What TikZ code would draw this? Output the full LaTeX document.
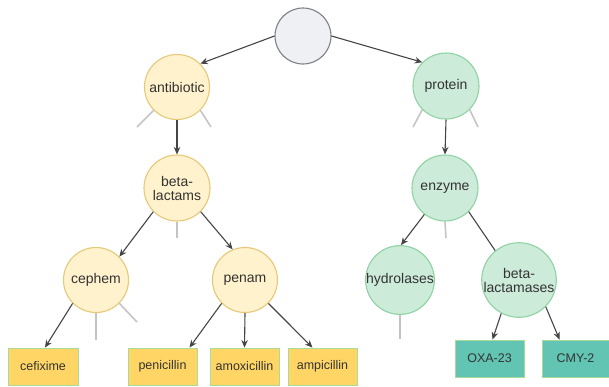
\documentclass[tikz,border=0pt]{standalone}
\usepackage{fontspec}
\setmainfont{Liberation Sans}
\usetikzlibrary{arrows.meta}
\definecolor{txt}{HTML}{333333}
\definecolor{rootfill}{HTML}{EEF0F4}
\definecolor{rootdraw}{HTML}{7F8085}
\definecolor{yfill}{HTML}{FFF2CC}
\definecolor{ydraw}{HTML}{E6C879}
\definecolor{gfill}{HTML}{CDEBD9}
\definecolor{gdraw}{HTML}{8FD3A2}
\definecolor{boxy}{HTML}{FFD666}
\definecolor{boxt}{HTML}{62C4B3}
\definecolor{boxedge}{HTML}{A8DC98}
\definecolor{arr}{HTML}{454545}
\definecolor{stubc}{HTML}{C4C4C4}
\tikzset{
  circ/.style={circle, inner sep=0pt, line width=1.1pt, text=txt, align=center,
    font=\fontsize{14}{15}\selectfont},
  rootc/.style={circ, minimum size=56pt, fill=rootfill, draw=rootdraw},
  ycirc/.style={circ, minimum size=65pt, fill=yfill, draw=ydraw},
  gcirc/.style={circ, minimum size=66pt, fill=gfill, draw=gdraw},
  leaf/.style={rectangle, minimum width=69pt, minimum height=37pt, inner sep=0pt,
    line width=0.9pt, draw=boxedge, text=txt, font=\fontsize{12.5}{13}\selectfont},
  yleaf/.style={leaf, fill=boxy},
  tleaf/.style={leaf, fill=boxt},
  link/.style={draw=arr, line width=1.1pt, -{Stealth[length=7.5pt,width=6.5pt]}},
  plain/.style={draw=arr, line width=1.1pt},
  stub/.style={draw=stubc, line width=1.6pt},
}
\begin{document}
\begin{tikzpicture}[x=1pt,y=-1pt]
\useasboundingbox (0,0) rectangle (609,386);

% circles
\node[rootc] (root) at (303,36) {};
\node[ycirc] (antibiotic) at (177,87) {antibiotic};
\node[gcirc] (protein) at (446,86) {protein};
\node[ycirc, minimum size=66pt] (blactams) at (177,188) {beta-\\[-1pt]lactams};
\node[gcirc] (enzyme) at (445,188) {enzyme};
\node[ycirc] (cephem) at (96,280) {cephem};
\node[ycirc] (penam) at (245,280) {penam};
\node[gcirc, minimum size=65pt] (hydro) at (400,280) {hydrolases};
\node[gcirc] (blactamases) at (519,280) {beta-\\[-1pt]lactamases};

% leaves
\node[yleaf, minimum width=70pt] (cefixime) at (43,366.5) {cefixime};
\node[yleaf] (penicillin) at (162.5,366.5) {penicillin};
\node[yleaf] (amoxicillin) at (244.5,366.5) {amoxicillin};
\node[yleaf] (ampicillin) at (322.5,366.5) {ampicillin};
\node[tleaf] (oxa) at (489.5,358.5) {OXA-23};
\node[tleaf, minimum width=67pt] (cmy) at (575.5,358.5) {CMY-2};

% connectors
\draw[link] (root.west) -- (antibiotic.north east);
\draw[link] (root.east) -- (protein.135);
\draw[link] (antibiotic.south) -- (blactams.north);
\draw[link] (protein.south) -- (enzyme.north);
\draw[link] (blactams.south west) -- (cephem.north east);
\draw[link] (blactams.south east) -- (penam.112);
\draw[link] (cephem.south west) -- ([xshift=2pt]cefixime.north);
\draw[link] (penam.south west) -- ([xshift=27pt]penicillin.north);
\draw[link] (penam.south) -- (amoxicillin.north);
\draw[link] (penam.south east) -- ([xshift=-10pt]ampicillin.north);
\draw[link] (enzyme.232) -- ([xshift=1pt]hydro.north);
\draw[plain] (enzyme.south east) -- (blactamases.129);
\draw[link] (blactamases.242) -- ([xshift=3pt]oxa.north);
\draw[link] (blactamases.south east) -- ([xshift=-16pt]cmy.north);

% unlinked stubs
\coordinate (s1) at (137,127);
\coordinate (s2) at (211,127);
\coordinate (s3) at (413,127);
\coordinate (s4) at (478,127);
\coordinate (s5) at (177,238);
\coordinate (s6) at (446,238);
\coordinate (s7) at (96,340);
\coordinate (s8) at (137,322);
\coordinate (s9) at (400,339);
\draw[stub] (antibiotic.south west) -- (s1);
\draw[stub] (antibiotic.south east) -- (s2);
\draw[stub] (protein.south west) -- (s3);
\draw[stub] (protein.south east) -- (s4);
\draw[stub] (blactams.south) -- (s5);
\draw[stub] (enzyme.south) -- (s6);
\draw[stub] (cephem.south) -- (s7);
\draw[stub] (cephem.south east) -- (s8);
\draw[stub] (hydro.south) -- (s9);
\end{tikzpicture}
\end{document}
